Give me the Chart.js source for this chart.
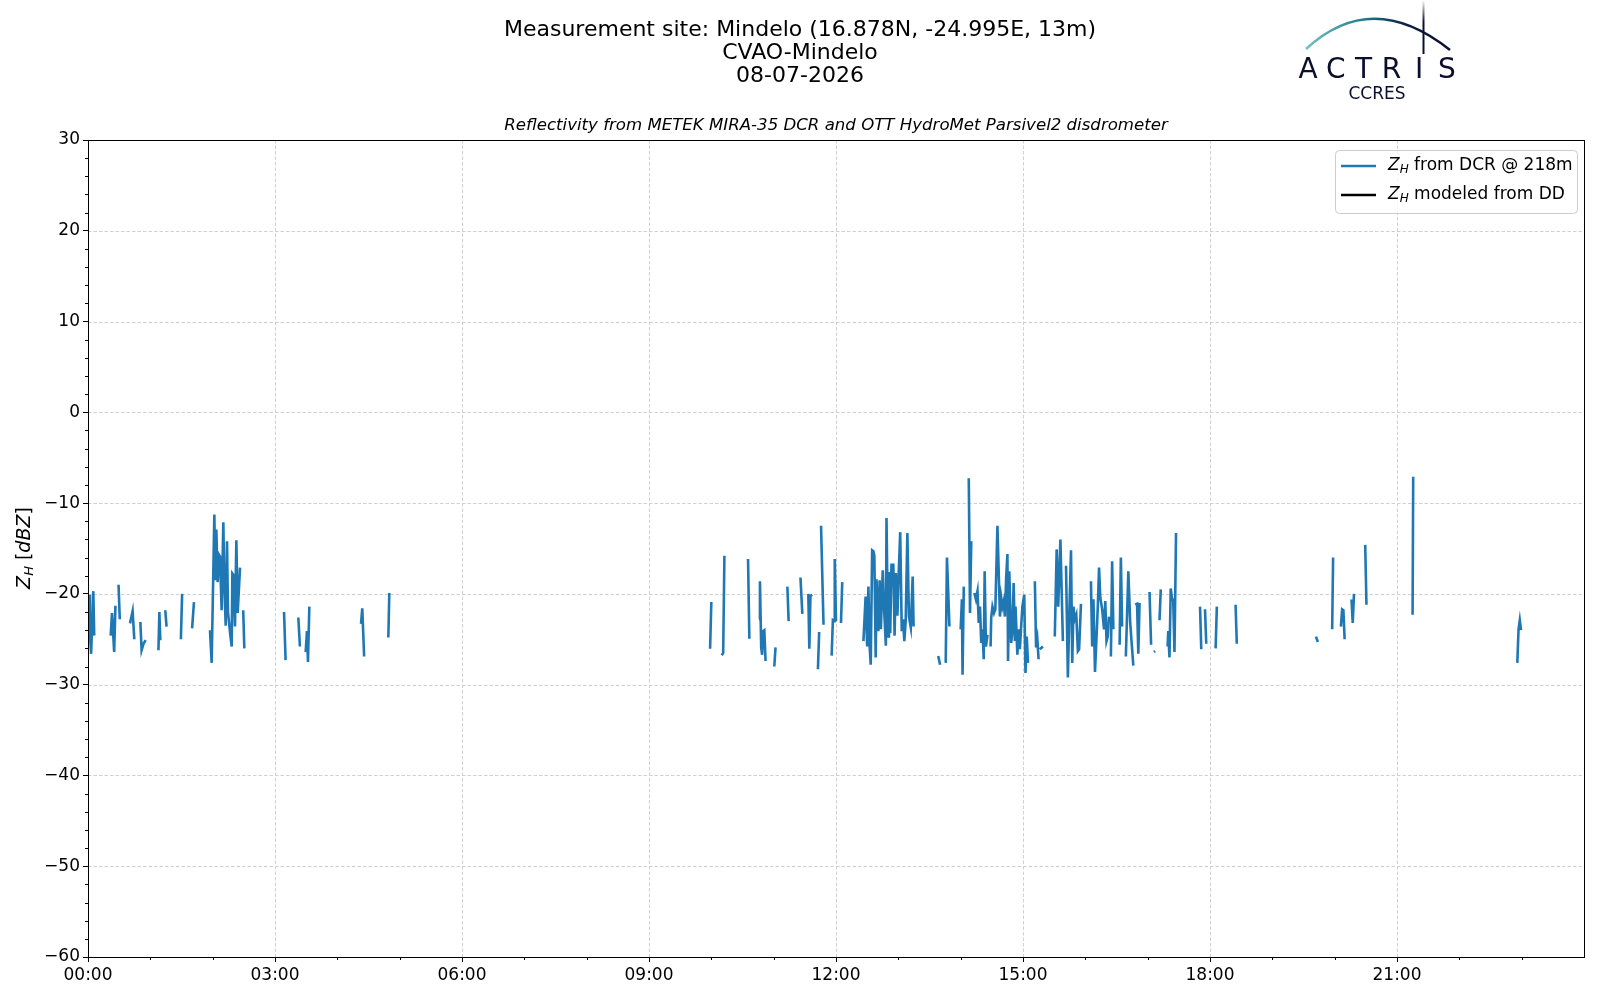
<!DOCTYPE html>
<html>
<head>
<meta charset="utf-8">
<script src="https://cdn.jsdelivr.net/npm/chart.js@4/dist/chart.umd.min.js"></script>
<style>
  html, body { margin: 0; padding: 0; background: #fff; }
  #wrap { width: 1600px; height: 1000px; }
</style>
</head>
<body>
<div id="wrap"><canvas id="chart" width="1600" height="1000"></canvas></div>
<script>
// Z_H depuis le radar DCR, un tableau par tronçon continu (heures UTC / dBZ)
const segHours = [
  [0.02, 0.03, 0.05, 0.085, 0.10],
  [0.364, 0.385, 0.42, 0.44],
  [0.49, 0.51],
  [0.674, 0.716, 0.743],
  [0.84, 0.86, 0.89, 0.925],
  [1.13, 1.145, 1.16],
  [1.24, 1.26],
  [1.49, 1.51],
  [1.67, 1.70],
  [1.957, 1.984, 2.027, 2.043, 2.059, 2.080, 2.102, 2.118, 2.144, 2.171, 2.187, 2.209, 2.230, 2.246, 2.278, 2.305, 2.316, 2.332, 2.358, 2.380, 2.401, 2.439],
  [2.49, 2.508],
  [3.145, 3.17],
  [3.374, 3.40],
  [3.492, 3.513, 3.529, 3.551],
  [4.38, 4.40, 4.43],
  [4.818, 4.834],
  [9.98, 10.0],
  [10.166, 10.19, 10.21],
  [10.589, 10.61],
  [10.765, 10.78, 10.80, 10.815, 10.83, 10.85, 10.87],
  [11.01, 11.03],
  [11.22, 11.24],
  [11.43, 11.46],
  [11.556, 11.572, 11.59, 11.62],
  [11.71, 11.73],
  [11.76, 11.80],
  [11.93, 11.95, 11.97, 11.98, 12.0],
  [12.08, 12.10],
  [12.44, 12.475, 12.50, 12.52, 12.54, 12.557, 12.58, 12.60, 12.615, 12.637, 12.65, 12.68, 12.70, 12.72, 12.75, 12.77, 12.80, 12.81, 12.835, 12.85, 12.87, 12.89, 12.92, 12.94, 12.96, 12.985, 13.006, 13.03, 13.055, 13.075, 13.096, 13.118, 13.145, 13.17, 13.2, 13.23, 13.245],
  [13.64, 13.67],
  [13.76, 13.78, 13.82],
  [14.0, 14.02, 14.03, 14.05],
  [14.13, 14.15, 14.17],
  [14.22, 14.245, 14.27, 14.29, 14.31, 14.33, 14.35, 14.37, 14.385, 14.405, 14.43],
  [14.48, 14.49, 14.51, 14.535, 14.556, 14.59, 14.63, 14.65, 14.67, 14.69, 14.71, 14.73, 14.75, 14.76, 14.78, 14.81, 14.83, 14.85, 14.87, 14.88, 14.91, 14.93, 14.95, 14.97, 14.99, 15.02, 15.04, 15.06, 15.08],
  [15.19, 15.21, 15.23, 15.25],
  [15.27, 15.32],
  [15.51, 15.54, 15.565, 15.60, 15.64],
  [15.69, 15.72, 15.745, 15.77, 15.79, 15.81, 15.83, 15.855, 15.88, 15.90, 15.93],
  [16.09, 16.11, 16.13, 16.155, 16.18, 16.20, 16.22, 16.24, 16.27, 16.30, 16.32, 16.34, 16.36, 16.38],
  [16.41, 16.43, 16.45],
  [16.55, 16.57, 16.59],
  [16.65, 16.69, 16.72, 16.77],
  [16.80, 16.83, 16.85, 16.87],
  [17.03, 17.055],
  [17.1, 17.12],
  [17.19, 17.21],
  [17.32, 17.33, 17.35, 17.37, 17.39, 17.41, 17.43, 17.455],
  [17.84, 17.86],
  [17.92, 17.94],
  [18.09, 18.11],
  [18.41, 18.43],
  [19.70, 19.73],
  [19.96, 19.975],
  [20.10, 20.12, 20.14, 20.16],
  [20.27, 20.29, 20.31],
  [20.49, 20.51],
  [21.25, 21.26],
  [22.93, 22.95, 22.97, 22.99]
];
const segZh = [
  [-20.1, -24.2, -26.6, -19.7, -24.6],
  [-24.6, -22.1, -26.4, -21.3],
  [-19.0, -22.8],
  [-23.25, -21.9, -25.0],
  [-23.1, -26.2, -25.5, -25.1],
  [-26.2, -22.0, -25.1],
  [-21.8, -23.6],
  [-25.0, -20.0],
  [-23.8, -20.9],
  [-24.0, -27.6, -11.25, -18.5, -12.9, -18.7, -15.7, -15.9, -21.8, -12.1, -18.85, -23.5, -14.2, -22.0, -24.2, -25.8, -17.75, -17.9, -23.6, -14.1, -22.1, -17.1],
  [-21.8, -26.0],
  [-22.0, -27.3],
  [-22.6, -25.8],
  [-26.4, -24.1, -27.5, -21.4],
  [-23.3, -21.6, -26.9],
  [-24.8, -19.9],
  [-26.05, -20.9],
  [-26.75, -26.5, -15.8],
  [-16.15, -24.95],
  [-22.8, -18.6, -25.9, -26.7, -24.1, -24.0, -27.4],
  [-28.0, -25.9],
  [-19.2, -23.0],
  [-18.2, -22.2],
  [-20.0, -26.05, -20.2, -20.1],
  [-28.3, -24.2],
  [-12.5, -23.4],
  [-26.8, -22.9, -23.0, -16.15, -23.0],
  [-23.2, -18.7],
  [-25.2, -20.3, -25.8, -19.2, -25.8, -27.8, -15.2, -15.3, -15.8, -27.0, -18.4, -24.1, -18.5, -23.9, -17.4, -21.4, -25.7, -11.65, -24.7, -17.6, -24.3, -16.8, -16.8, -24.6, -17.7, -22.4, -17.7, -13.2, -24.1, -22.8, -25.2, -23.0, -13.3, -22.5, -23.7, -18.1, -23.6],
  [-26.85, -27.8],
  [-27.6, -16.0, -23.6],
  [-23.9, -20.6, -28.9, -19.2],
  [-7.25, -22.1, -14.2],
  [-19.9, -20.6, -19.7, -23.2, -21.4, -25.4, -23.9, -27.2, -17.5, -25.8, -24.5],
  [-25.8, -22.6, -21.4, -22.1, -21.7, -12.5, -22.5, -20.4, -21.4, -20.8, -22.5, -18.2, -15.6, -27.4, -17.5, -25.4, -24.1, -18.8, -25.2, -21.4, -26.7, -23.9, -26.1, -23.6, -21.4, -20.1, -28.7, -24.7, -27.6],
  [-18.6, -25.9, -25.0, -27.2],
  [-26.1, -25.8],
  [-24.7, -15.1, -21.4, -14.0, -25.2],
  [-16.9, -29.2, -21.7, -15.2, -27.6, -21.4, -22.8, -22.3, -26.3, -26.1, -21.1],
  [-18.6, -25.8, -20.6, -28.6, -24.7, -21.4, -17.1, -20.4, -21.7, -23.9, -20.8, -25.2, -24.7, -22.5],
  [-26.9, -16.4, -23.9],
  [-25.6, -16.0, -23.6],
  [-26.9, -17.5, -23.2, -27.9],
  [-21.2, -21.1, -26.6, -21.0],
  [-19.8, -25.6],
  [-26.4, -26.3],
  [-22.9, -19.5],
  [-25.8, -24.1, -27.0, -19.4, -20.5, -20.7, -26.4, -13.3],
  [-21.4, -26.1],
  [-21.7, -25.5],
  [-26.0, -21.4],
  [-21.2, -25.5],
  [-24.7, -25.3],
  [-23.9, -16.0],
  [-23.6, -21.7, -21.8, -25.0],
  [-20.6, -23.2, -20.0],
  [-14.6, -21.2],
  [-22.3, -7.1],
  [-27.6, -23.9, -22.9, -24.0]
];
// pas de données du disdromètre ce jour-là
const zhModel = [];

const xTicks = [0, 3, 6, 9, 12, 15, 18, 21];
const yTicks = [-60, -50, -40, -30, -20, -10, 0, 10, 20, 30];

const titleLines = ['Measurement site: Mindelo (16.878N, -24.995E, 13m)', 'CVAO-Mindelo', '08-07-2026'];
const subTitle = 'Reflectivity from METEK MIRA-35 DCR and OTT HydroMet Parsivel2 disdrometer';
const legendLabels = ['from DCR @ 218m', 'modeled from DD'];

// points avec null entre deux tronçons -> la ligne est coupée
const dcrPoints = [];
segHours.forEach((seg, i) => {
  seg.forEach((h, j) => dcrPoints.push({ x: h, y: segZh[i][j] }));
  dcrPoints.push({ x: seg[seg.length - 1] + 0.005, y: null });
});

const FONT = '"DejaVu Sans", sans-serif';
const BLUE = '#1f77b4';

function hhmm(v) {
  return String(v).padStart(2, '0') + ':00';
}

// Z en italique avec indice H, renvoie la position x suivante
function drawZH(ctx, x, y, size) {
  ctx.font = 'italic ' + size + 'px ' + FONT;
  ctx.fillText('Z', x, y);
  x += ctx.measureText('Z').width;
  const sub = Math.round(size * 0.7);
  ctx.font = 'italic ' + sub + 'px ' + FONT;
  ctx.fillText('H', x, y + size * 0.22);
  return x + ctx.measureText('H').width;
}

const decorPlugin = {
  id: 'decor',
  beforeDatasetsDraw(chart) {
    const { ctx, chartArea: a, scales } = chart;
    ctx.save();
    // grille en tirets
    ctx.strokeStyle = '#d0d0d0';
    ctx.lineWidth = 1;
    ctx.setLineDash([3.5, 2]);
    xTicks.slice(1).forEach(v => {
      const x = Math.round(scales.x.getPixelForValue(v)) + 0.5;
      ctx.beginPath(); ctx.moveTo(x, a.top); ctx.lineTo(x, a.bottom); ctx.stroke();
    });
    yTicks.slice(1, -1).forEach(v => {
      const y = Math.round(scales.y.getPixelForValue(v)) + 0.5;
      ctx.beginPath(); ctx.moveTo(a.left, y); ctx.lineTo(a.right, y); ctx.stroke();
    });
    ctx.setLineDash([]);
    // petites graduations
    ctx.strokeStyle = '#000';
    for (let h = 1; h < 24; h++) {
      if (h % 3 === 0) continue;
      const x = Math.round(scales.x.getPixelForValue(h)) + 0.5;
      ctx.beginPath(); ctx.moveTo(x, a.bottom); ctx.lineTo(x, a.bottom + 3); ctx.stroke();
    }
    for (let v = -58; v < 30; v += 2) {
      if (v % 10 === 0) continue;
      const y = Math.round(scales.y.getPixelForValue(v)) + 0.5;
      ctx.beginPath(); ctx.moveTo(a.left, y); ctx.lineTo(a.left - 3, y); ctx.stroke();
    }
    ctx.restore();
  },
  afterDraw(chart) {
    const { ctx, chartArea: a } = chart;
    ctx.save();
    // cadre
    ctx.strokeStyle = '#000';
    ctx.lineWidth = 1;
    ctx.strokeRect(a.left + 0.5, a.top + 0.5, a.right - a.left, a.bottom - a.top);

    // titres
    ctx.fillStyle = '#000';
    ctx.textAlign = 'center';
    ctx.textBaseline = 'middle';
    ctx.font = '22px ' + FONT;
    titleLines.forEach((t, i) => ctx.fillText(t, 800, 30 + i * 23));
    ctx.font = 'italic 16.6px ' + FONT;
    ctx.fillText(subTitle, (a.left + a.right) / 2, 126);

    // titre axe y
    ctx.save();
    ctx.translate(25, 548);
    ctx.rotate(-Math.PI / 2);
    ctx.textAlign = 'left';
    ctx.textBaseline = 'middle';
    ctx.font = 'italic 19px ' + FONT;
    const wZ = ctx.measureText('Z').width;
    ctx.font = 'italic 13px ' + FONT;
    const wH = ctx.measureText('H').width;
    ctx.font = '19px ' + FONT;
    const wB = ctx.measureText(' []').width;
    ctx.font = 'italic 19px ' + FONT;
    const wD = ctx.measureText('dBZ').width;
    let x = -(wZ + wH + wB + wD) / 2;
    x = drawZH(ctx, x, 0, 19);
    ctx.font = '19px ' + FONT;
    ctx.fillText(' [', x, 0); x += ctx.measureText(' [').width;
    ctx.font = 'italic 19px ' + FONT;
    ctx.fillText('dBZ', x, 0); x += ctx.measureText('dBZ').width;
    ctx.font = '19px ' + FONT;
    ctx.fillText(']', x, 0);
    ctx.restore();

    // légende
    const lx = 1335, ly = 150, lw = 242, lh = 63;
    ctx.fillStyle = 'rgba(255,255,255,0.8)';
    ctx.strokeStyle = '#cccccc';
    ctx.beginPath();
    ctx.roundRect(lx + 0.5, ly + 0.5, lw, lh, 4);
    ctx.fill(); ctx.stroke();
    const colors = [BLUE, '#000'];
    legendLabels.forEach((lab, i) => {
      const yy = 166 + i * 29;
      ctx.strokeStyle = colors[i];
      ctx.lineWidth = 2.6;
      ctx.beginPath(); ctx.moveTo(1341, yy); ctx.lineTo(1376, yy); ctx.stroke();
      ctx.fillStyle = '#000';
      ctx.textAlign = 'left';
      ctx.textBaseline = 'middle';
      let tx = drawZH(ctx, 1388, yy, 17);
      ctx.font = '17px ' + FONT;
      ctx.fillText(' ' + lab, tx, yy);
    });

    // logo ACTRIS
    const grad = ctx.createLinearGradient(1306, 0, 1452, 0);
    grad.addColorStop(0, '#6fc3c0');
    grad.addColorStop(0.4, '#1f7a8c');
    grad.addColorStop(0.7, '#0d1b3e');
    grad.addColorStop(1, '#0a0f2e');
    ctx.strokeStyle = grad;
    ctx.lineWidth = 2.5;
    ctx.beginPath();
    ctx.moveTo(1306, 49);
    ctx.quadraticCurveTo(1372, -12, 1450, 50);
    ctx.stroke();
    const vg = ctx.createLinearGradient(0, 0, 0, 55);
    vg.addColorStop(0, 'rgba(10,15,46,0)');
    vg.addColorStop(0.4, '#0a0f2e');
    vg.addColorStop(1, '#0a0f2e');
    ctx.strokeStyle = vg;
    ctx.lineWidth = 2;
    ctx.beginPath(); ctx.moveTo(1423.5, 0); ctx.lineTo(1423.5, 54); ctx.stroke();
    ctx.fillStyle = '#0a0f2e';
    ctx.textBaseline = 'alphabetic';
    ctx.textAlign = 'center';
    ctx.font = '28px ' + FONT;
    const letters = ['A', 'C', 'T', 'R', 'I', 'S'];
    letters.forEach((c, i) => ctx.fillText(c, 1308 + i * 27.8, 78));
    ctx.font = '17px ' + FONT;
    ctx.fillText('CCRES', 1377, 99);
    ctx.restore();
  }
};

Chart.defaults.font.family = FONT;
Chart.defaults.color = '#000';

new Chart(document.getElementById('chart'), {
  type: 'line',
  data: {
    datasets: [
      { label: 'Z_H from DCR @ 218m', data: dcrPoints, borderColor: BLUE, borderWidth: 2.6,
        pointRadius: 0, spanGaps: false, tension: 0, fill: false },
      { label: 'Z_H modeled from DD', data: zhModel, borderColor: '#000', borderWidth: 2.6,
        pointRadius: 0, fill: false }
    ]
  },
  options: {
    responsive: false,
    animation: false,
    devicePixelRatio: 1,
    layout: { padding: { top: 140, right: 16, left: 0, bottom: 0 } },
    plugins: { legend: { display: false }, tooltip: { enabled: false }, title: { display: false } },
    scales: {
      x: {
        type: 'linear', min: 0, max: 24,
        afterBuildTicks: s => { s.ticks = xTicks.map(v => ({ value: v })); },
        afterFit: s => { s.height = 43; },
        ticks: { callback: v => hhmm(v), font: { size: 17 }, maxRotation: 0, autoSkip: false, padding: 3 },
        grid: { drawOnChartArea: false, tickLength: 5, tickColor: '#000', color: '#000' },
        border: { display: true, color: '#000', width: 1 }
      },
      y: {
        min: -60, max: 30,
        afterBuildTicks: s => { s.ticks = yTicks.map(v => ({ value: v })); },
        afterFit: s => { s.width = 88; },
        ticks: { callback: v => (v < 0 ? '\u2212' + Math.abs(v) : String(v)), font: { size: 17 }, padding: 3 },
        grid: { drawOnChartArea: false, tickLength: 5, tickColor: '#000', color: '#000' },
        border: { display: true, color: '#000', width: 1 }
      }
    }
  },
  plugins: [decorPlugin]
});
</script>
</body>
</html>
